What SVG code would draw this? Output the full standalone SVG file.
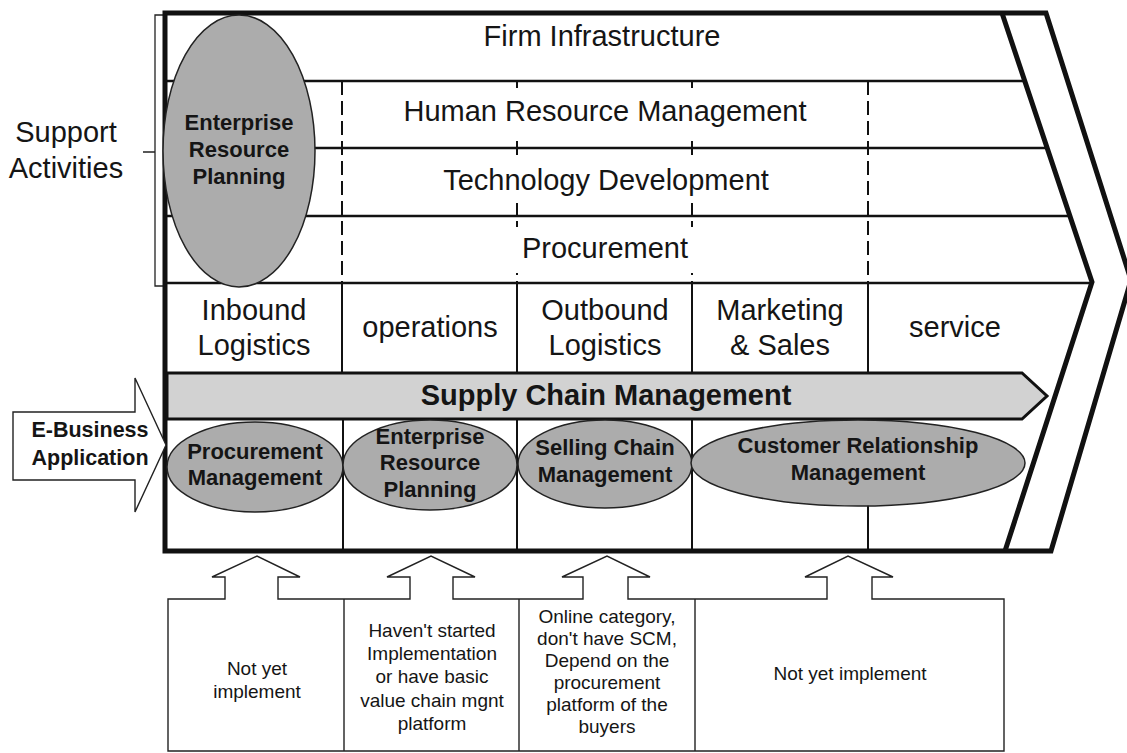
<svg xmlns="http://www.w3.org/2000/svg" width="1127" height="753" viewBox="0 0 1127 753">
<style>
text{font-family:"Liberation Sans",Arial,Helvetica,sans-serif;fill:#151515;text-anchor:middle}
.big{font-size:29px}
.bold{font-weight:bold}
.eb{font-size:22px;font-weight:bold}
.sm{font-size:19px}
.thick{fill:none;stroke:#111;stroke-width:5;stroke-linejoin:miter}
.row{stroke:#111;stroke-width:2.5;fill:none}
.dash{stroke:#111;stroke-width:2;stroke-dasharray:14 6;fill:none}
.vl{stroke:#111;stroke-width:2;fill:none}
.ell{fill:#acacac;stroke:#222;stroke-width:1.5}
.thin{fill:#fff;stroke:#222;stroke-width:1.4}
.bg{fill:#fff;stroke:none}
</style>
<rect width="1127" height="753" fill="#fff"/>

<g id="support-bracket">
  <path d="M165,15 H155 V286 H165 M143,152 H155" fill="none" stroke="#222" stroke-width="1.3"/>
  <text class="big" x="66" y="142">Support</text>
  <text class="big" x="66" y="178">Activities</text>
</g>

<g id="grid">
  <path class="row" d="M165,81 H1025 M165,148 H1047 M165,216 H1070 M165,283 H1092"/>
  <path class="dash" d="M342,81 V283 M517,81 V283 M692,81 V283 M868,81 V283"/>
  <path class="vl" d="M342,283 V373 M517,283 V373 M692,283 V373 M868,283 V373"/>
  <path class="vl" d="M343,419 V551 M517,419 V551 M692,419 V551 M868,419 V551"/>
</g>

<g id="frame">
  <path class="thick" d="M165,13 H1046 L1131,280 L1051,551 H165 Z"/>
  <path class="thick" d="M1002,13 L1092,282 L1005,551"/>
</g>

<g id="support-activities">
  <text class="big" x="602" y="46">Firm Infrastructure</text>
  <rect class="bg" x="396" y="88" width="418" height="48"/>
  <text class="big" x="605" y="121">Human Resource Management</text>
  <rect class="bg" x="436" y="158" width="340" height="45"/>
  <text class="big" x="606" y="190">Technology Development</text>
  <rect class="bg" x="505" y="227" width="200" height="46"/>
  <text class="big" x="605" y="258">Procurement</text>
</g>

<g id="primary-activities">
  <text class="big" x="254" y="320">Inbound</text>
  <text class="big" x="254" y="355">Logistics</text>
  <text class="big" x="430" y="337">operations</text>
  <text class="big" x="605" y="320">Outbound</text>
  <text class="big" x="605" y="355">Logistics</text>
  <text class="big" x="780" y="320">Marketing</text>
  <text class="big" x="780" y="355">&amp; Sales</text>
  <text class="big" x="955" y="337">service</text>
</g>

<g id="erp-support">
  <ellipse class="ell" cx="239" cy="151" rx="76" ry="136"/>
  <text class="eb" x="239" y="130">Enterprise</text>
  <text class="eb" x="239" y="157">Resource</text>
  <text class="eb" x="239" y="184">Planning</text>
</g>

<g id="scm">
  <path d="M167,373 H1022 L1047,396 L1022,419 H167 Z" fill="#d2d2d2" stroke="#111" stroke-width="3"/>
  <text class="big bold" x="606" y="405">Supply Chain Management</text>
</g>

<g id="procurement-mgmt">
  <ellipse class="ell" cx="255" cy="467" rx="88" ry="45"/>
  <text class="eb" x="255" y="459">Procurement</text>
  <text class="eb" x="255" y="485">Management</text>
</g>

<g id="erp-primary">
  <ellipse class="ell" cx="430" cy="465" rx="87" ry="45"/>
  <text class="eb" x="430" y="444">Enterprise</text>
  <text class="eb" x="430" y="470">Resource</text>
  <text class="eb" x="430" y="497">Planning</text>
</g>

<g id="selling-chain">
  <ellipse class="ell" cx="605" cy="464" rx="87" ry="44"/>
  <text class="eb" x="605" y="455">Selling Chain</text>
  <text class="eb" x="605" y="482">Management</text>
</g>

<g id="crm">
  <ellipse class="ell" cx="858" cy="463" rx="167" ry="43"/>
  <text class="eb" x="858" y="453">Customer Relationship</text>
  <text class="eb" x="858" y="480">Management</text>
</g>

<g id="ebusiness">
  <path class="thin" d="M13,412 H135 V378 L166,445 L135,512 V480 H13 Z"/>
  <text class="bold" x="90" y="437" style="font-size:21.5px">E-Business</text>
  <text class="bold" x="90" y="465" style="font-size:21.5px">Application</text>
</g>

<g id="connectors">
  <path class="thin" d="M168,751 V599 H225 V577 H212 L257,556 L300,577 H278 V599 H410 V577 H387 L431,556 L475,577 H453 V599 H583 V577 H562 L607,556 L650,577 H628 V599 H827 V577 H805 L848,556 L893,577 H872 V599 H1004 V751 Z"/>
  <path d="M344,599 V751 M519,599 V751 M695,599 V751" stroke="#222" stroke-width="1.4" fill="none"/>
</g>

<g id="status-1">
  <text class="sm" x="257" y="675">Not yet</text>
  <text class="sm" x="257" y="698">implement</text>
</g>
<g id="status-2">
  <text class="sm" x="432" y="637">Haven't started</text>
  <text class="sm" x="432" y="660">Implementation</text>
  <text class="sm" x="432" y="683">or have basic</text>
  <text class="sm" x="432" y="707">value chain mgnt</text>
  <text class="sm" x="432" y="730">platform</text>
</g>
<g id="status-3">
  <text class="sm" x="607" y="623">Online category,</text>
  <text class="sm" x="607" y="645">don't have SCM,</text>
  <text class="sm" x="607" y="667">Depend on the</text>
  <text class="sm" x="607" y="689">procurement</text>
  <text class="sm" x="607" y="711">platform of the</text>
  <text class="sm" x="607" y="733">buyers</text>
</g>
<g id="status-4">
  <text class="sm" x="850" y="680">Not yet implement</text>
</g>
</svg>
